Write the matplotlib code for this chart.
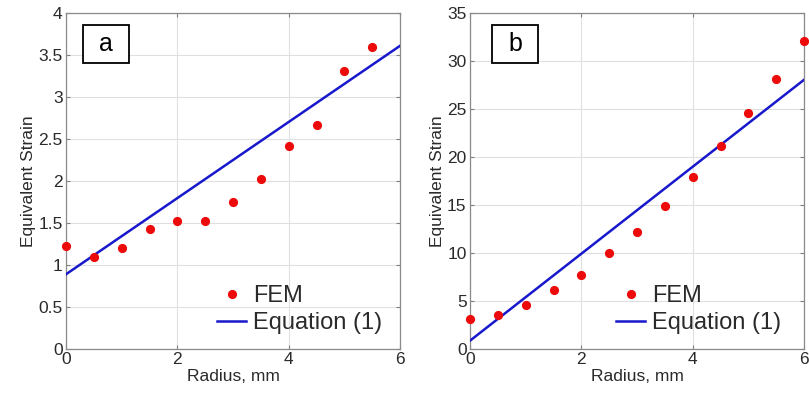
import matplotlib
matplotlib.use("Agg")
import matplotlib.pyplot as plt
from matplotlib.patches import Rectangle
from matplotlib.ticker import FuncFormatter

plt.rcParams["font.family"] = ["Liberation Sans", "DejaVu Sans"]

# radius positions of the FEM nodes (mm)
radius_a = [0, 0.5, 1, 1.5, 2, 2.5, 3, 3.5, 4, 4.5, 5, 5.5]
fem_a = [1.23, 1.10, 1.20, 1.43, 1.53, 1.52, 1.75, 2.02, 2.42, 2.67, 3.31, 3.59]
eq_x_a = [0, 6]
eq_y_a = [0.89, 3.61]

radius_b = [0, 0.5, 1, 1.5, 2, 2.5, 3, 3.5, 4, 4.5, 5, 5.5, 6]
fem_b = [3.1, 3.5, 4.6, 6.1, 7.7, 10.05, 12.2, 14.85, 17.95, 21.2, 24.6, 28.15, 32.1]
eq_x_b = [0, 6]
eq_y_b = [0.87, 28.05]

# tag, x, fem, eq x, eq y, ymax, ystep, tag box left, legend anchor x
panels = [
    ("a", radius_a, fem_a, eq_x_a, eq_y_a, 4, 0.5, 0.051, 0.946),
    ("b", radius_b, fem_b, eq_x_b, eq_y_b, 35, 5, 0.066, 0.931),
]

fig = plt.figure(figsize=(8.09, 3.99), dpi=100)
axes = [fig.add_axes([0.0816, 0.1253, 0.4129, 0.842]),
        fig.add_axes([0.581, 0.1253, 0.4129, 0.842])]

red = "#ec0a0a"
blue = "#1818cc"
txt = "#2a2a2a"

for ax, (tag, rx, fem, ex, ey, ymax, ystep, tagx, legx) in zip(axes, panels):
    ax.grid(True, color="#e0e0e0", linewidth=0.8, zorder=0)
    ax.set_axisbelow(True)
    ax.plot(ex, ey, color=blue, linewidth=1.8, label="Equation (1)", zorder=3)
    ax.plot(rx, fem, linestyle="none", marker="o", markersize=5.6,
            color=red, label="FEM", zorder=4, clip_on=False)
    ax.set_xlim(0, 6)
    ax.set_ylim(0, ymax)
    ax.set_xticks([0, 2, 4, 6])
    ax.set_yticks([i * ystep for i in range(int(round(ymax / ystep)) + 1)])
    ax.yaxis.set_major_formatter(FuncFormatter(lambda v, p: "%g" % v))
    ax.tick_params(direction="in", top=True, right=True, length=3,
                   color="#808080", labelcolor=txt, labelsize=12.5, pad=2.5)
    for s in ax.spines.values():
        s.set_color("#8a8a8a")
        s.set_linewidth(0.9)
    ax.set_xlabel("Radius, mm", fontsize=12.5, color=txt, labelpad=1)
    ax.set_ylabel("Equivalent Strain", fontsize=12.5, color=txt, labelpad=1.5)

    # legend: FEM first, then the equation line
    h, l = ax.get_legend_handles_labels()
    leg = ax.legend([h[1], h[0]], [l[1], l[0]], loc="lower right",
                    bbox_to_anchor=(legx, 0.045), frameon=False, fontsize=17,
                    handlelength=1.2, handletextpad=0.3, labelspacing=0.2,
                    borderpad=0, borderaxespad=0)
    for t in leg.get_texts():
        t.set_color(txt)

    # panel tag in a boxed label
    bw, bh = 0.138, 0.113
    ax.add_patch(Rectangle((tagx, 0.851), bw, bh, transform=ax.transAxes,
                           facecolor="white", edgecolor="black",
                           linewidth=1.3, zorder=5))
    ax.text(tagx + bw / 2, 0.851 + bh / 2, tag, transform=ax.transAxes,
            fontsize=18, ha="center", va="center", zorder=6, color="black")

fig.savefig("out.png", dpi=100)
